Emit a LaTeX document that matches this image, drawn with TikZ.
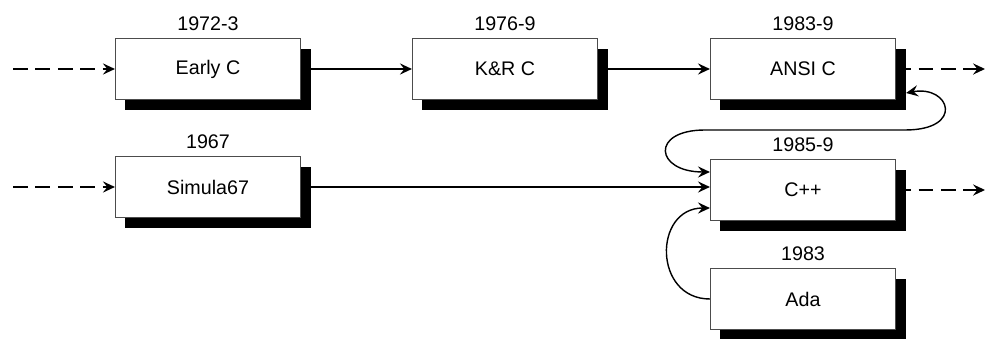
\documentclass[tikz,border=0pt]{standalone}
\usepackage{fontspec}
\setmainfont{Liberation Sans}
\usetikzlibrary{arrows.meta, positioning, shadows, backgrounds}

\begin{document}
\begin{tikzpicture}[
    x=0.025cm, y=-0.025cm,
    font=\fontsize{14}{16}\selectfont,
    block/.style={rectangle, draw=black!70, line width=0.8pt, fill=white, inner sep=0pt, minimum width=4.625cm, minimum height=1.525cm, drop shadow={shadow xshift=0.25cm, shadow yshift=-0.27cm, opacity=1, fill=black}},
    year/.style={inner sep=2pt},
    tip/.tip={Stealth[length=3mm, width=2.8mm, inset=1.1mm]},
    arrow/.style={line width=1pt, -tip},
    dasharrow/.style={arrow, dash pattern=on 0.37cm off 0.19cm}
]
\useasboundingbox (0,0) rectangle (985,339);

\node (early) [block] at (208,69) {Early C};
\node (knr) [block] at (505,69) {K\&R C};
\node (ansi) [block] at (803,69) {ANSI C};
\node (simula) [block] at (208,187) {Simula67};
\node (cpp) [block] at (803,190) {C++};
\node (ada) [block] at (803,299) {Ada};

\node (earlyyear) [year, above=3pt of early] {1972-3};
\node (knryear) [year, above=3pt of knr] {1976-9};
\node (ansiyear) [year, above=3pt of ansi] {1983-9};
\node (simulayear) [year, above=3pt of simula] {1967};
\node (cppyear) [year, above=3pt of cpp] {1985-9};
\node (adayear) [year, above=3pt of ada] {1983};

\coordinate (earlyin) at (13,69);
\coordinate (simulain) at (13,187);
\coordinate (ansiout) at (985,69);
\coordinate (cppout) at (985,190);

\begin{scope}[on background layer]
\draw [dasharrow] (earlyin) -- (early.west);
\draw [dasharrow] (simulain) -- (simula.west);
\draw [arrow] (early) -- (knr);
\draw [arrow] (knr) -- (ansi);
\draw [dasharrow] (ansi.east) -- (ansiout);
\draw [dasharrow] (cpp.east) -- (cppout);
\draw [arrow] (simula.east) -- (simula.east -| cpp.west);

% ANSI C and C++ both ways
\draw [arrow, tip-tip]
    ([shift={(0.25cm,-0.6cm)}]ansi.east) .. controls (950,85) and (965,130) .. (905,130)
    -- (705,130) .. controls (650,130) and (655,172) .. ([yshift=0.45cm]cpp.west);
\draw [arrow] (ada.west) to[out=180, in=180, looseness=1.6] ([yshift=-0.45cm]cpp.west);
\end{scope}
\end{tikzpicture}
\end{document}
